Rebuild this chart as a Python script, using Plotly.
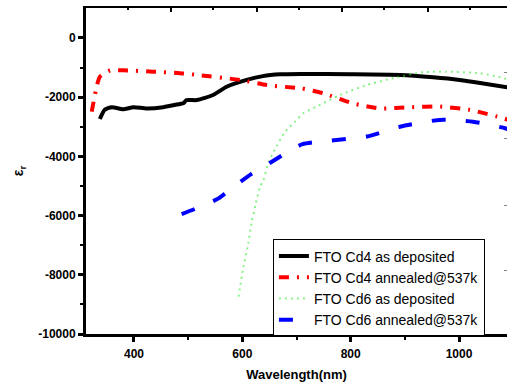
import plotly.graph_objects as go

# ---- data ----
cd4_dep_wl = [337, 346, 359, 380, 399, 423, 454, 485, 491, 497, 516, 546, 571, 608, 638, 670, 707, 800, 891, 952, 1001, 1039, 1089]
cd4_dep_eps = [-2740, -2430, -2340, -2410, -2340, -2380, -2340, -2230, -2210, -2100, -2100, -1930, -1650, -1420, -1290, -1230, -1217, -1225, -1250, -1330, -1420, -1520, -1670]

cd4_ann_wl = [322, 331, 337, 356, 387, 435, 485, 516, 596, 651, 707, 749, 804, 854, 910, 965, 1020, 1081, 1090]
cd4_ann_eps = [-2490, -1650, -1310, -1100, -1100, -1140, -1190, -1250, -1420, -1610, -1700, -1870, -2210, -2380, -2340, -2320, -2430, -2710, -2760]

cd6_dep_wl = [593, 601, 611, 617, 625, 633, 639, 648, 663, 679, 697, 713, 737, 780, 830, 885, 934, 977, 1038, 1076, 1090]
cd6_dep_eps = [-8740, -7840, -6940, -6260, -5580, -5020, -4800, -4230, -3670, -3170, -2830, -2540, -2320, -1930, -1590, -1330, -1160, -1140, -1190, -1330, -1400]

cd6_ann_wl = [488, 516, 556, 580, 617, 645, 685, 711, 761, 830, 891, 965, 1026, 1085, 1090]
cd6_ann_eps = [-5950, -5750, -5420, -5080, -4590, -4290, -3840, -3590, -3470, -3330, -3000, -2770, -2830, -3050, -3080]

y_tickvals = [0, -2000, -4000, -6000, -8000, -10000]
y_ticktext = ["0", "-2000", "-4000", "-6000", "-8000", "-10000"]
x_tickvals = [400, 600, 800, 1000]
x_ticktext = ["400", "600", "800", "1000"]

names = ["FTO Cd4 as deposited", "FTO Cd4 annealed@537k", "FTO Cd6 as deposited", "FTO Cd6 annealed@537k"]

FONT = "Arial, Liberation Sans, sans-serif"

fig = go.Figure()
fig.add_trace(go.Scatter(x=cd4_dep_wl, y=cd4_dep_eps, mode="lines", name=names[0],
                         line=dict(color="black", width=4, shape="spline", smoothing=0.6)))
fig.add_trace(go.Scatter(x=cd4_ann_wl, y=cd4_ann_eps, mode="lines", name=names[1],
                         line=dict(color="red", width=4, dash="10px,8px,2px,8px", shape="spline", smoothing=0.6)))
fig.add_trace(go.Scatter(x=cd6_dep_wl, y=cd6_dep_eps, mode="lines", name=names[2],
                         line=dict(color="rgba(40,230,40,0.55)", width=2, dash="2px,4px", shape="spline", smoothing=0.6)))
fig.add_trace(go.Scatter(x=cd6_ann_wl, y=cd6_ann_eps, mode="lines", name=names[3],
                         line=dict(color="blue", width=4, dash="14px,20px", shape="spline", smoothing=0.6)))

# dummy invisible trace to anchor the decorative top/right axes
fig.add_trace(go.Scatter(x=[0], y=[0], xaxis="x2", yaxis="y2", mode="markers",
                         marker=dict(opacity=0), showlegend=False, hoverinfo="skip"))

fig.update_layout(
    width=507, height=387,
    margin=dict(l=86, r=0, t=8, b=53),
    paper_bgcolor="white", plot_bgcolor="white",
    font=dict(family=FONT, color="black"),
    showlegend=True,
    legend=dict(x=0.444, y=0.29, xanchor="left", yanchor="top",
                bgcolor="white", bordercolor="black", borderwidth=1,
                font=dict(size=14, family=FONT, color="black"),
                tracegroupgap=0, itemwidth=30),
    xaxis=dict(range=[311.4, 1088.6], showgrid=False, zeroline=False,
               showline=True, linecolor="black", linewidth=3,
               ticks="outside", ticklen=5, tickwidth=3, tickcolor="black",
               tickvals=x_tickvals, ticktext=x_ticktext, ticklabelstandoff=2,
               tickfont=dict(size=12, family=FONT, weight="bold"),
               minor=dict(tickvals=[500, 700, 900], ticks="outside", ticklen=3, tickwidth=2, tickcolor="black"),
               title=dict(text="<b>Wavelength(nm)</b>", font=dict(size=13, family=FONT), standoff=10)),
    yaxis=dict(range=[-10000, 1010], showgrid=False, zeroline=False,
               showline=True, linecolor="black", linewidth=3,
               ticks="outside", ticklen=5, tickwidth=3, tickcolor="black",
               tickvals=y_tickvals, ticktext=y_ticktext, ticklabelstandoff=0,
               tickfont=dict(size=12, family=FONT, weight="bold"),
               minor=dict(tickvals=[-1000, -3000, -5000, -7000, -9000], ticks="outside", ticklen=3, tickwidth=2, tickcolor="black"),
               title=dict(text="<b>ε<sub>r</sub></b>", font=dict(size=14, family=FONT), standoff=12)),
    xaxis2=dict(overlaying="x", side="top", anchor="y", range=[0, 421],
                showgrid=False, zeroline=False, showline=True, linecolor="black", linewidth=2,
                ticks="inside", ticklen=4, tickwidth=2, tickcolor="black",
                tickvals=[85, 171, 256, 342], showticklabels=False,
                minor=dict(tickvals=[42, 127, 213, 298, 384], ticks="inside", ticklen=2, tickwidth=2, tickcolor="black")),
    yaxis2=dict(overlaying="y", side="right", anchor="x", range=[0, 326],
                showgrid=False, zeroline=False, showline=False,
                ticks="inside", ticklen=3, tickwidth=1, tickcolor="gray",
                tickvals=[64, 129, 196, 262], showticklabels=False),
)

fig.write_html("out.html", config={"displayModeBar": False},
               post_script="document.body.style.margin='0';document.body.style.overflow='hidden';")
